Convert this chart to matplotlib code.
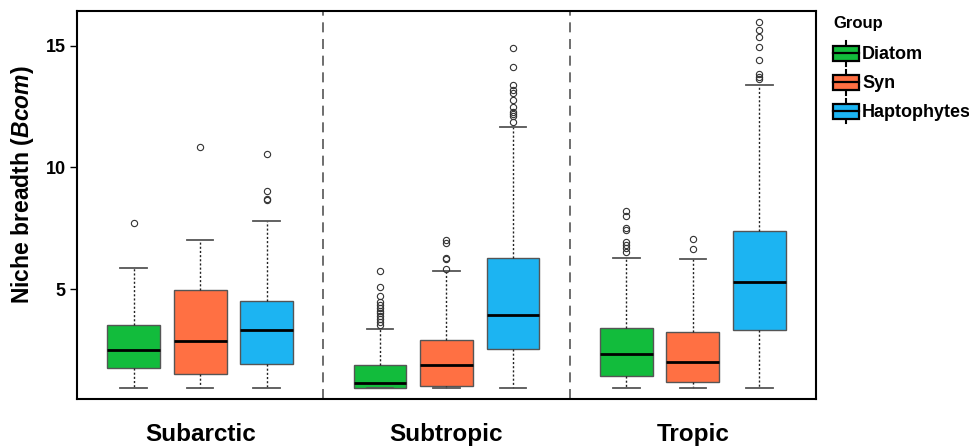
import matplotlib
matplotlib.use("Agg")
import matplotlib.pyplot as plt
from matplotlib.patches import Rectangle
from matplotlib.lines import Line2D
from matplotlib.legend_handler import HandlerBase

plt.rcParams['font.family'] = ['Liberation Sans', 'DejaVu Sans']
plt.rcParams['mathtext.fontset'] = 'custom'
plt.rcParams['mathtext.bfit'] = 'Liberation Sans:italic:bold'

# Data (box statistics per region / group)
regions = ["Subarctic", "Subtropic", "Tropic"]
groups = ["Diatom", "Syn", "Haptophytes"]
colors = ["#12BC3C", "#FF7043", "#1CB4F2"]

# rows: regions, columns: groups
whislo = [[0.95, 0.95, 0.95], [0.95, 0.95, 0.95], [0.95, 0.95, 0.95]]
q1 = [[1.77, 1.52, 1.95], [0.97, 1.03, 2.56], [1.45, 1.18, 3.32]]
med = [[2.52, 2.88, 3.32], [1.17, 1.88, 3.96], [2.33, 2.00, 5.29]]
q3 = [[3.52, 4.98, 4.52], [1.89, 2.93, 6.28], [3.42, 3.25, 7.38]]
whishi = [[5.87, 7.04, 7.80], [3.37, 5.75, 11.66], [6.30, 6.26, 13.37]]
fliers = [
    [[7.73], [10.85], [10.54, 9.03, 8.72, 8.67]],
    [[5.75, 5.08, 4.72, 4.49, 4.35, 4.24, 4.12, 4.01, 3.90, 3.77, 3.65, 3.53],
     [7.02, 6.89, 6.30, 6.23, 5.82],
     [14.92, 14.14, 13.37, 13.17, 13.07, 12.77, 12.47, 12.29, 12.20, 12.11, 11.88]],
    [[8.21, 8.02, 7.53, 7.43, 6.93, 6.82, 6.68, 6.52],
     [7.08, 6.67],
     [15.97, 15.64, 15.34, 14.96, 14.41, 13.84, 13.70, 13.63]],
]


class BoxKeyHandler(HandlerBase):
    def create_artists(self, legend, orig_handle, xdescent, ydescent,
                       width, height, fontsize, trans):
        x0, y0 = -xdescent, -ydescent
        cx = x0 + width / 2
        whisk = Line2D([cx, cx], [y0 - height * 0.12, y0 + height * 1.12],
                       color="black", lw=1.5, transform=trans)
        rect = Rectangle((x0, y0 + height * 0.12), width, height * 0.76,
                         facecolor=orig_handle, edgecolor="black", lw=1.6,
                         transform=trans)
        mline = Line2D([x0, x0 + width], [y0 + height / 2] * 2,
                       color="black", lw=1.6, transform=trans)
        return [whisk, rect, mline]


fig = plt.figure(figsize=(9.7, 4.46), dpi=100)
ax = fig.add_axes([0.0794, 0.1054, 0.7618, 0.8699])

offset = 0.27
for j, g in enumerate(groups):
    stats = []
    pos = []
    for i in range(len(regions)):
        stats.append(dict(med=med[i][j], q1=q1[i][j], q3=q3[i][j],
                          whislo=whislo[i][j], whishi=whishi[i][j],
                          fliers=fliers[i][j], label=g))
        pos.append(i + 1 + (j - 1) * offset)
    ax.bxp(stats, positions=pos, widths=0.215, capwidths=0.108,
           patch_artist=True, showfliers=True,
           boxprops=dict(facecolor=colors[j], edgecolor="#555555", lw=1.0),
           medianprops=dict(color="black", lw=2.0),
           whiskerprops=dict(color="#222222", lw=1.0, linestyle=(0, (1.5, 1.5))),
           capprops=dict(color="#555555", lw=1.3),
           flierprops=dict(marker="o", markerfacecolor="none",
                           markeredgecolor="#333333", markersize=4.5,
                           markeredgewidth=0.8))

for xs in [1.5, 2.5]:
    ax.axvline(xs, color="#555555", lw=1.2, dashes=(6, 4), zorder=0)

ax.set_xlim(0.5, 3.5)
ax.set_ylim(0.5, 16.42)
ax.set_xticks([1, 2, 3])
ax.set_xticklabels(regions, fontsize=17.5, fontweight="bold")
ax.set_yticks([5, 10, 15])
ax.set_yticklabels(["5", "10", "15"], fontsize=13, fontweight="bold")
ax.tick_params(axis="x", length=0, pad=17)
ax.tick_params(axis="y", length=5, width=1.0, pad=3)
for sp in ax.spines.values():
    sp.set_linewidth(1.5)
    sp.set_color("black")

ax.set_ylabel(r"Niche breadth ($\mathbfit{Bcom}$)", fontsize=16.5,
              fontweight="bold")
ax.yaxis.set_label_coords(-0.0555, 0.552)

fig.legend(colors, groups, handler_map={str: BoxKeyHandler()},
           loc="upper left", bbox_to_anchor=(0.859, 0.964),
           title="Group", title_fontproperties=dict(size=12, weight="bold"),
           prop=dict(size=13, weight="bold"), frameon=False,
           handlelength=1.4, handleheight=1.3, handletextpad=0.2,
           labelspacing=0.5, borderaxespad=0, borderpad=0)
leg = fig.legends[0]
leg._legend_box.align = "left"
leg._legend_box.sep = 9

fig.savefig("out.png", dpi=100)
